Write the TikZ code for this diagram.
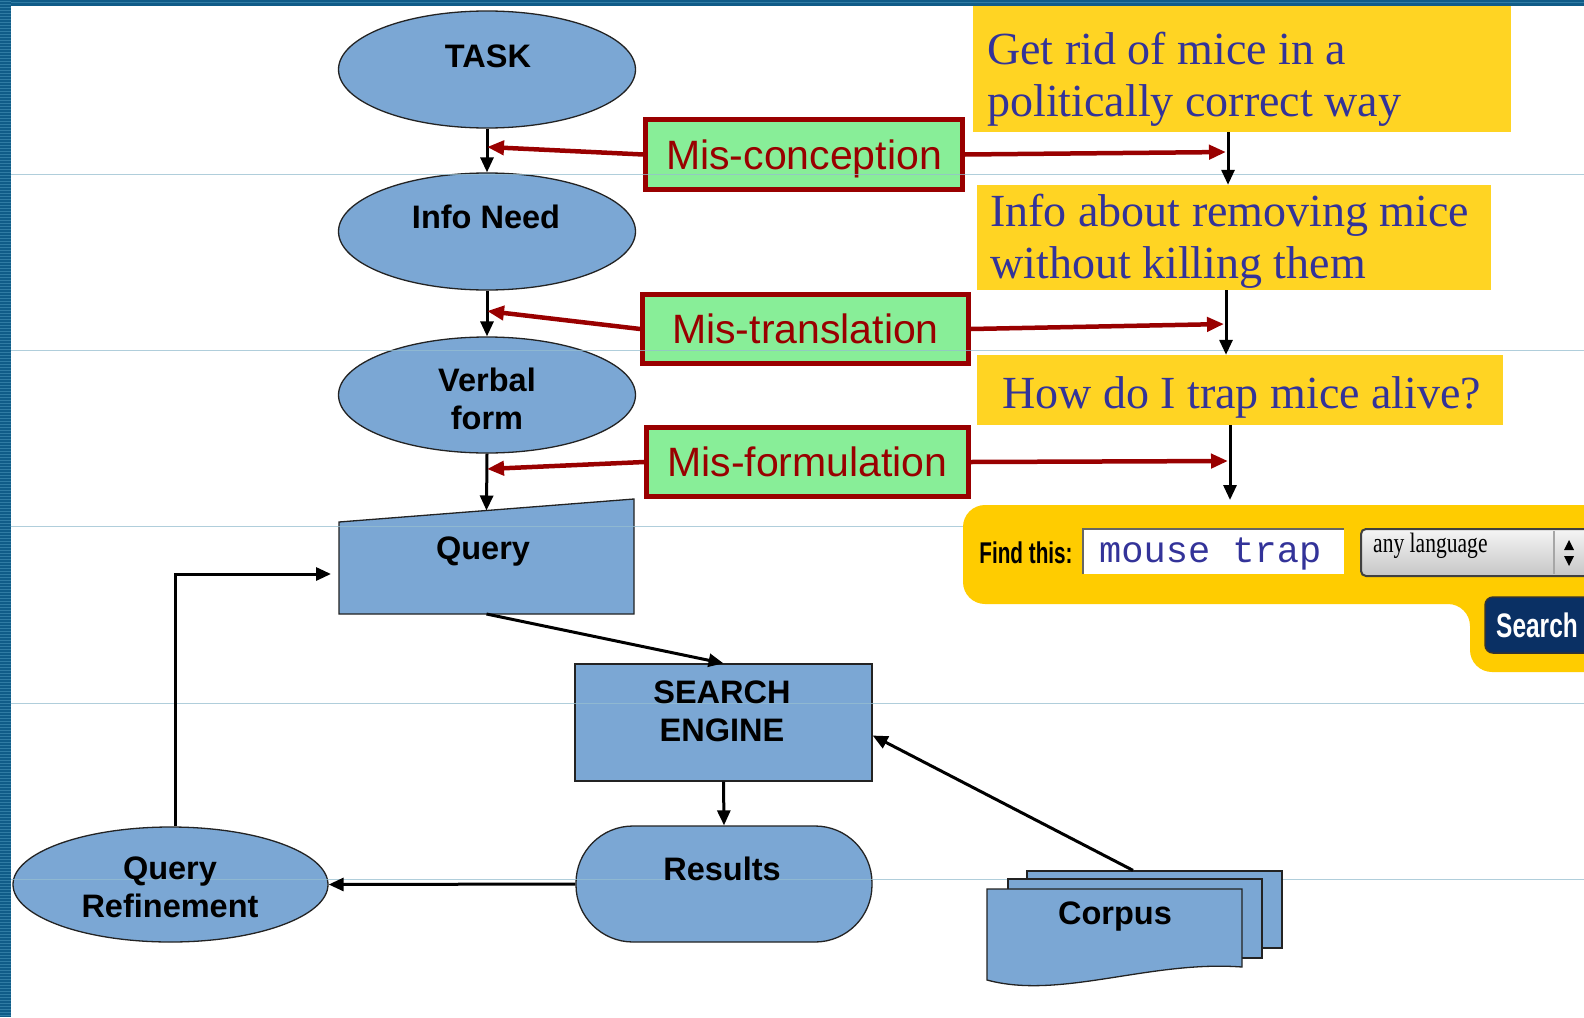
\documentclass[tikz,border=0pt]{standalone}
\usepackage{fontspec}
\setmainfont{Liberation Sans}
\newfontfamily\notefont{Liberation Serif}
\newfontfamily\inputfont{Liberation Mono}
\usetikzlibrary{arrows.meta,shapes.geometric,calc}

\definecolor{flowblue}{RGB}{123,167,212}
\definecolor{edgegray}{RGB}{35,35,35}
\definecolor{misred}{RGB}{153,0,0}
\definecolor{misgreen}{RGB}{136,238,152}
\definecolor{noteyellow}{RGB}{255,212,35}
\definecolor{notetext}{RGB}{51,51,153}
\definecolor{barorange}{RGB}{255,204,0}
\definecolor{framedark}{RGB}{16,92,136}
\definecolor{framelight}{RGB}{48,124,164}
\definecolor{ruleline}{RGB}{150,190,208}
\definecolor{btnnavy}{RGB}{10,48,100}

\begin{document}
\begin{tikzpicture}[x=1pt, y=-1pt,
    flowshape/.style={draw=edgegray, line width=1.3pt, fill=flowblue, inner sep=0pt},
    ellshape/.style={flowshape, ellipse, minimum width=297pt, minimum height=117pt},
    flowlbl/.style={font=\bfseries\fontsize{32.5}{38}\selectfont, align=center, inner sep=0pt},
    misbox/.style={draw=misred, line width=4.5pt, fill=misgreen, text=misred, inner sep=0pt,
      minimum height=70pt, font=\fontsize{41}{48}\selectfont, text height=29.4pt, text depth=0pt},
    notebox/.style={fill=noteyellow, inner sep=0pt},
    notetxt/.style={text=notetext, font=\notefont\fontsize{46}{52}\selectfont, align=left,
      inner sep=0pt, anchor=base west},
    flow/.style={-{Triangle[length=15pt,width=13pt]}, line width=3pt},
    misflow/.style={-{Triangle[length=17pt,width=14pt]}, line width=4.5pt, misred}]

  \useasboundingbox (0,0) rectangle (1584,1017);
  \clip (0,0) rectangle (1584,1017);
  \fill[white] (0,0) rectangle (1584,1017);

  % frame of the slide
  \fill[framedark] (0,0) rectangle (11,1017);
  \fill[framedark] (0,0) rectangle (1584,6);
  \foreach \yy in {1,4,...,1016} {\draw[framelight, line width=1pt] (0,\yy) -- (11,\yy);}
  \draw[framelight, line width=1pt] (11,2.5) -- (1584,2.5);

  % flow chart
  \node[ellshape] (task) at (487,69.5) {};
  \node[ellshape] (info) at (487,231.5) {};
  \node[ellshape, minimum height=116pt] (verbal) at (487,395) {};
  \coordinate (q-tl) at (339,522);
  \coordinate (q-tr) at (634,499);
  \coordinate (q-br) at (634,614);
  \coordinate (q-bl) at (339,614);
  \filldraw[flowshape] (q-tl) -- (q-tr) -- (q-br) -- (q-bl) -- cycle;
  \node[flowshape, rectangle, minimum width=297pt, minimum height=117pt] (se) at (723.5,722.5) {};
  \node[flowshape, rectangle, rounded corners=57pt, minimum width=296pt, minimum height=116pt] (results) at (724,884) {};
  \node[ellshape, minimum width=315pt, minimum height=115pt] (qref) at (170.5,884.5) {};

  \node[misbox, minimum width=317pt] (misc) at (804,154.5) {Mis-conception};
  \node[misbox, minimum width=326pt, minimum height=69pt] (mist) at (805.5,329) {Mis-translation};
  \node[misbox, minimum width=322pt, minimum height=69pt] (misf) at (807.5,462) {Mis-formulation};

  \node[notebox, minimum width=538pt, minimum height=126pt] (note1) at (1242,69) {};
  \node[notebox, minimum width=514pt, minimum height=105pt] (note2) at (1234,237.5) {};
  \node[notebox, minimum width=526pt, minimum height=70pt] (note3) at (1240,390) {};

  \foreach \yy in {174,350.5,526,703,879} {\draw[ruleline, line width=1pt, opacity=.75] (11,\yy) -- (1584,\yy);}

  % corpus
  \node[flowshape, rectangle, minimum width=255pt, minimum height=77pt] (corpus-back) at (1154.5,909.5) {};
  \filldraw[flowshape] (1008,879) rectangle (1262,958);
  \filldraw[flowshape] (987,889) -- (1242,889) -- (1242,967) .. controls (1150,960) and (1060,1000) .. (987,980) -- cycle;

  % search form
  \fill[barorange, rounded corners=22pt] (963,505) -- (1620,505) -- (1620,672) -- (1470,672) -- (1470,604) -- (963,604) -- cycle;
  \node[fill=white, inner sep=0pt, minimum width=261pt, minimum height=45pt] (findbox) at (1213.5,551.5) {};
  \draw[black!60, line width=2pt] (findbox.south west) |- (findbox.north east);
  \node[draw=black!75, line width=2pt, rounded corners=5pt, top color=gray!8, bottom color=gray!45,
    minimum width=260pt, minimum height=47pt, inner sep=0pt] (langbox) at (1491,552.5) {};
  \draw[black!35, line width=1.5pt] (1554,531) -- (1554,574);
  \fill (1564,550) -- (1574,550) -- (1569,540) -- cycle;
  \fill (1564,556) -- (1574,556) -- (1569,566) -- cycle;
  \node[fill=btnnavy, draw=black!80, line width=1.5pt, rounded corners=8pt, minimum width=130pt,
    minimum height=56pt, inner sep=0pt] (searchbtn) at (1550,625) {};
  \node[anchor=base, inner sep=0pt, font=\bfseries\fontsize{30}{32}\selectfont] (findlbl) at (1026,563) {\scalebox{0.69}[1]{Find this:}};
  \node[anchor=base west, inner sep=0pt, text=notetext, font=\inputfont\fontsize{37}{40}\selectfont] (findtxt) at (1099,562) {mouse trap};
  \node[anchor=west, inner sep=0pt, font=\notefont\fontsize{28}{30}\selectfont] (langtxt) at (1373,546) {\scalebox{0.77}[1]{any language}};
  \node[inner sep=0pt, text=white, font=\bfseries\fontsize{34}{36}\selectfont] (searchtxt) at (1537,625) {\scalebox{0.72}[1]{Search}};

  % labels
  \node[flowlbl, anchor=base] (task-t) at (488,67) {TASK};
  \node[flowlbl, anchor=base] (info-t) at (486,228) {Info Need};
  \node[flowlbl] (verbal-t) at (487,399) {Verbal\\form};
  \node[flowlbl, anchor=base] (query-t) at (483,559) {Query};
  \node[flowlbl] (se-t) at (722,711.5) {SEARCH\\ENGINE};
  \node[flowlbl, anchor=base] (results-t) at (722,880) {Results};
  \node[flowlbl] (qref-t) at (170,887) {Query\\Refinement};
  \node[flowlbl, anchor=base] (corpus-t) at (1115,924) {Corpus};

  \node[notetxt] (note1-t) at (987,116) {Get rid of mice in a\\politically correct way};
  \node[notetxt] (note2-t) at (990,278) {Info about removing mice\\without killing them};
  \node[notetxt] (note3-t) at (1002,408) {How do I trap mice alive?};

  % arrows
  \coordinate (k1) at (487,147);
  \coordinate (k2) at (487,311);
  \coordinate (k3) at (487,469);
  \coordinate (j1) at (1228,152);
  \coordinate (j2) at (1226,324);
  \coordinate (j3) at (1230,461);
  \coordinate (bar-top) at (1230,500);
  \coordinate (q-in) at (331,574);

  \draw[flow] (task.south) -- (info.north);
  \draw[flow] (info.south) -- (verbal.north);
  \draw[flow] (verbal.south) -- ($(q-tl)!0.5!(q-tr)$);
  \draw[flow] ($(q-bl)!0.5!(q-br)$) -- (se.north);
  \draw[flow] (se.south) -- (results.north);
  \draw[flow] (results.west) -- (qref.east);
  \draw[flow] ([xshift=5pt]qref.north) |- (q-in);
  \draw[flow] ([xshift=-21.5pt]corpus-back.north) -- ([yshift=-13pt]se.east);

  \draw[flow] (note1.south -| j1) -- (note2.north -| j1);
  \draw[flow] (note2.south -| j2) -- (note3.north -| j2);
  \draw[flow] (note3.south -| j3) -- (bar-top);

  \draw[misflow] (misc.west) -- (k1);
  \draw[misflow] (mist.west) -- (k2);
  \draw[misflow] (misf.west) -- (k3);
  \draw[misflow, shorten >=2pt] (misc.east) -- (j1);
  \draw[misflow, shorten >=2pt] (mist.east) -- (j2);
  \draw[misflow, shorten >=2pt] (misf.east) -- (j3);
\end{tikzpicture}
\end{document}
